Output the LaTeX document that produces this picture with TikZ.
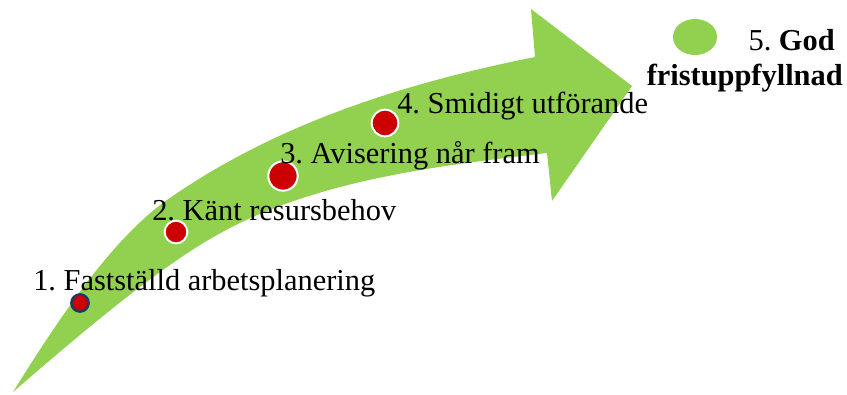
\documentclass[tikz,border=0pt]{standalone}
\usepackage{fontspec}
\setmainfont{Liberation Serif}
\frenchspacing
\usetikzlibrary{shapes.geometric}
\definecolor{arrowgreen}{HTML}{92D050}
\definecolor{dotred}{HTML}{CC0000}
\definecolor{navy}{HTML}{1F3864}
\begin{document}
\begin{tikzpicture}[x=0.75pt,y=-0.75pt,
  lbl/.style={anchor=base west,inner sep=0pt,font=\fontsize{22.8}{27}\selectfont},
  reddot/.style={circle,fill=dotred,draw=white,line width=1.5pt,inner sep=0pt}]
\useasboundingbox (0,0) rectangle (847,394);
% curved arrow
\fill[arrowgreen] (13,392) .. controls (61,315) and (113,238) .. (167,200)
  .. controls (281,120) and (415,81) .. (535,57)
  -- (531,9) -- (632,86) -- (552,201) -- (547,153)
  .. controls (437,166) and (310,180) .. (210,239)
  .. controls (152,273) and (80,334) .. (13,392) -- cycle;
% dots
\node[circle,fill=dotred,draw=navy,line width=1.8pt,inner sep=0pt,minimum size=13pt] (d1) at (80,303) {};
\node[reddot,minimum size=17pt] (d2) at (176,232) {};
\node[reddot,minimum size=22pt] (d3) at (283,176) {};
\node[reddot,minimum size=20pt] (d4) at (385,123) {};
\node[ellipse,fill=arrowgreen,inner sep=0pt,minimum width=33pt,minimum height=27pt] (d5) at (695,37) {};
% labels
\node[lbl] (t1) at (33,290) {1. Fastställd arbetsplanering};
\node[lbl] (t2) at (152,220) {2. Känt resursbehov};
\node[lbl] (t3) at (280,163) {3. Avisering når fram};
\node[lbl] (t4) at (397,113) {4. Smidigt utförande};
\node[lbl,anchor=base east] (t5a) at (835,50) {5. \textbf{God}};
\node[lbl,anchor=base east] (t5b) at (843,85) {\textbf{fristuppfyllnad}};
\end{tikzpicture}
\end{document}
